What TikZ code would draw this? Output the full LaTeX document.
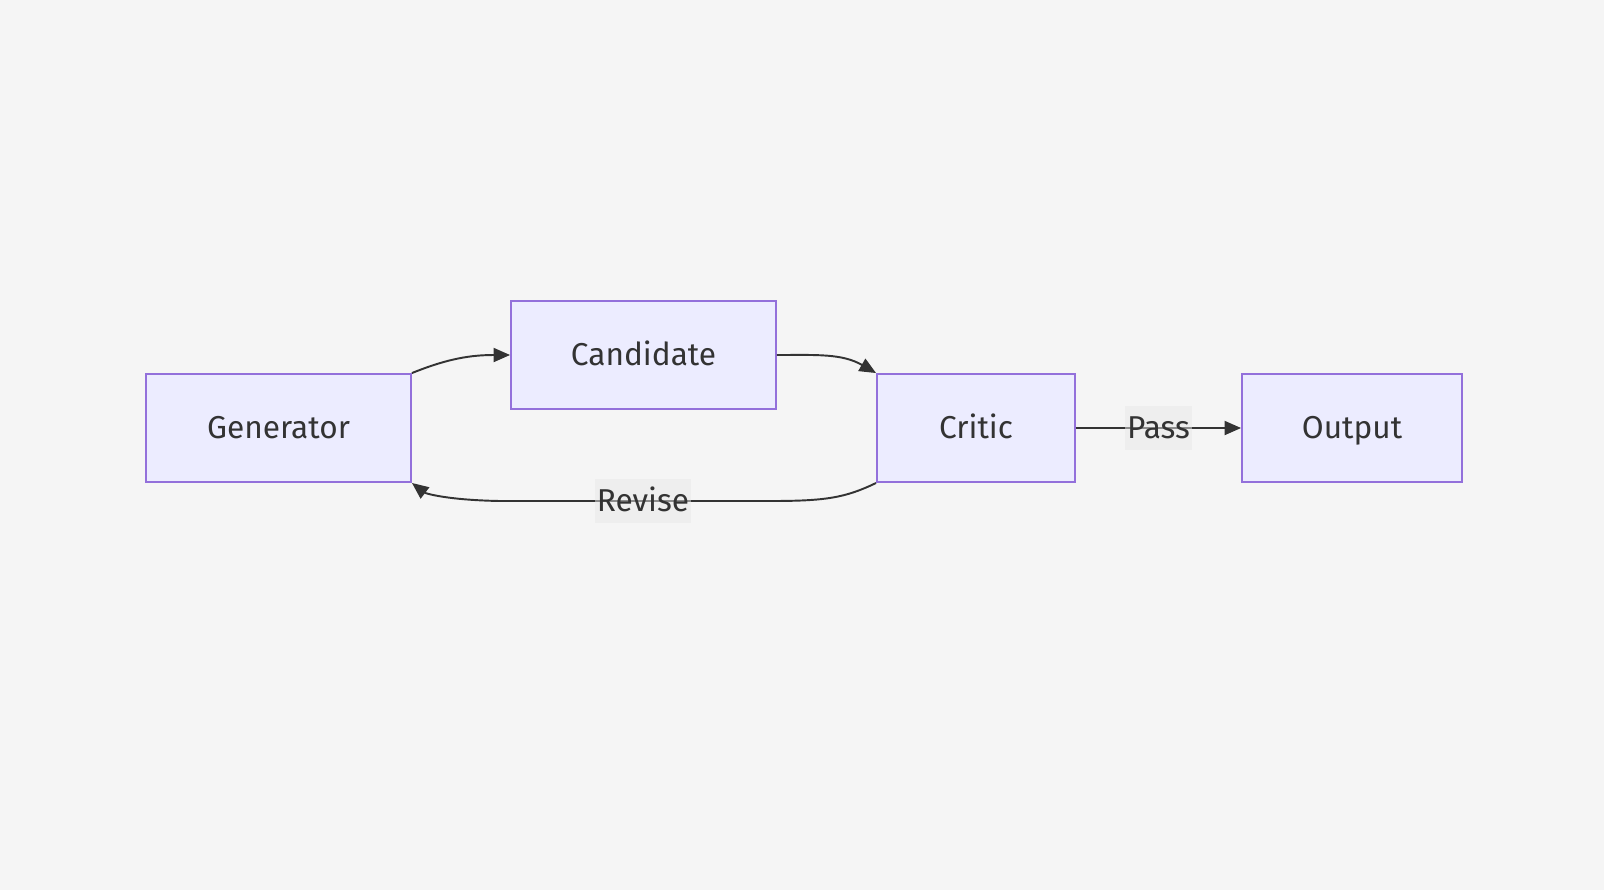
\documentclass[tikz,border=0pt]{standalone}
\usepackage{fontspec}
\setmainfont{Fira Sans}
\usetikzlibrary{arrows.meta}
\usetikzlibrary{calc}

\definecolor{pagebg}{HTML}{F5F5F5}
\definecolor{boxfill}{HTML}{ECECFF}
\definecolor{boxline}{HTML}{9370DB}
\definecolor{ink}{HTML}{333333}
\definecolor{labelbg}{HTML}{E8E8E8}

\begin{document}
\begin{tikzpicture}[x=0.02cm, y=-0.02cm,
  box/.style={draw=boxline, fill=boxfill, line width=1.1pt, minimum height=2.16cm,
    text=ink, text height=14pt, text depth=1.6pt, font=\fontsize{18}{22}\selectfont},
  flow/.style={draw=ink, line width=1.1pt, -{Triangle[length=0.33cm,width=0.28cm]}},
  edgelabel/.style={fill=labelbg, fill opacity=0.5, text opacity=1, text=ink,
    inner xsep=1pt, minimum height=0.88cm, text height=14pt, text depth=1.6pt,
    font=\fontsize{18}{22}\selectfont}]
\fill[pagebg] (0,0) rectangle (1604,890);
\useasboundingbox (0,0) rectangle (1604,890);
\node[box, minimum width=5.3cm] (gen) at (278.5,428) {Generator};
\node[box, minimum width=5.3cm] (cand) at (643.5,355) {Candidate};
\node[box, minimum width=3.96cm] (crit) at (976,428) {Critic};
\node[box, minimum width=4.4cm] (out) at (1352,428) {Output};
\coordinate (back) at (643,501);
\draw[flow] (gen.north east) to[out=22,in=180] (cand.west);
\draw[flow] (cand.east) to[out=0,in=150] (crit.north west);
\draw[flow] (crit.south west) .. controls (845,498) and (825,501) .. (770,501) -- (back) -- (500,501)
  .. controls (445,500) and (425,493) .. (gen.south east);
\draw[flow] (crit.east) -- (out.west);
\node[edgelabel] (revise) at (back) {Revise};
\node[edgelabel] (pass) at ($(crit.east)!0.5!(out.west)$) {Pass};
\end{tikzpicture}
\end{document}
